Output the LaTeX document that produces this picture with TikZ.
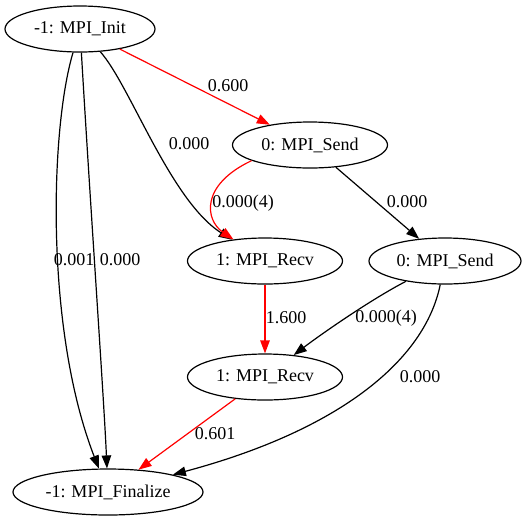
\documentclass[tikz,border=0pt]{standalone}
\usepackage{fontspec}
\setmainfont{Liberation Serif}
\usetikzlibrary{shapes.geometric,arrows.meta}
\definecolor{edgered}{RGB}{255,0,0}
\begin{document}
\begin{tikzpicture}[x=1pt,y=-1pt,
  every node/.style={font=\fontsize{18}{20}\selectfont},
  state/.style={ellipse,draw,line width=1.2pt,inner sep=0pt,minimum height=46pt},
  lbl/.style={inner sep=0pt},
  edge/.style={line width=1.2pt,-{Triangle[length=13pt,width=9.5pt]}},
  hot/.style={edge,draw=edgered}]
\useasboundingbox (0,0) rectangle (529,523);
\node[state,minimum width=150pt] (init) at (80,29) {-1: MPI\_Init};
\node[state,minimum width=155pt] (s0a) at (310,145) {0: MPI\_Send};
\node[state,minimum width=155pt] (r1a) at (265,261) {1: MPI\_Recv};
\node[state,minimum width=152pt] (s0b) at (445,261) {0: MPI\_Send};
\node[state,minimum width=155pt] (r1b) at (265,377) {1: MPI\_Recv};
\node[state,minimum width=190pt] (fin) at (108,492) {-1: MPI\_Finalize};
% edges
\draw[hot] (init) -- (s0a);
\draw[edge] (init) .. controls (130,85) and (170,200) .. (r1a);
\draw[edge] (init) .. controls (50,130) and (45,330) .. (fin);
\draw[edge] (init) .. controls (90,200) and (104,400) .. (fin);
\draw[hot] (s0a.195) .. controls (200,185) and (205,220) .. (r1a);
\draw[edge] (s0a) -- (s0b);
\draw[hot] (r1a) -- (r1b);
\draw[edge] (s0b) .. controls (370,300) and (320,335) .. (r1b);
\draw[edge] (s0b) .. controls (425,360) and (340,430) .. (fin);
\draw[hot] (r1b) -- (fin);
% labels
\node[lbl] (l1) at (228,86) {0.600};
\node[lbl] (l2) at (189,144) {0.000};
\node[lbl] (l3) at (243,203) {0.000(4)};
\node[lbl] (l4) at (407,202) {0.000};
\node[lbl] (l5) at (74,260) {0.001};
\node[lbl] (l6) at (120,260) {0.000};
\node[lbl] (l7) at (286,318) {1.600};
\node[lbl] (l8) at (386,318) {0.000(4)};
\node[lbl] (l9) at (420,377) {0.000};
\node[lbl] (l10) at (215,434) {0.601};
\end{tikzpicture}
\end{document}
